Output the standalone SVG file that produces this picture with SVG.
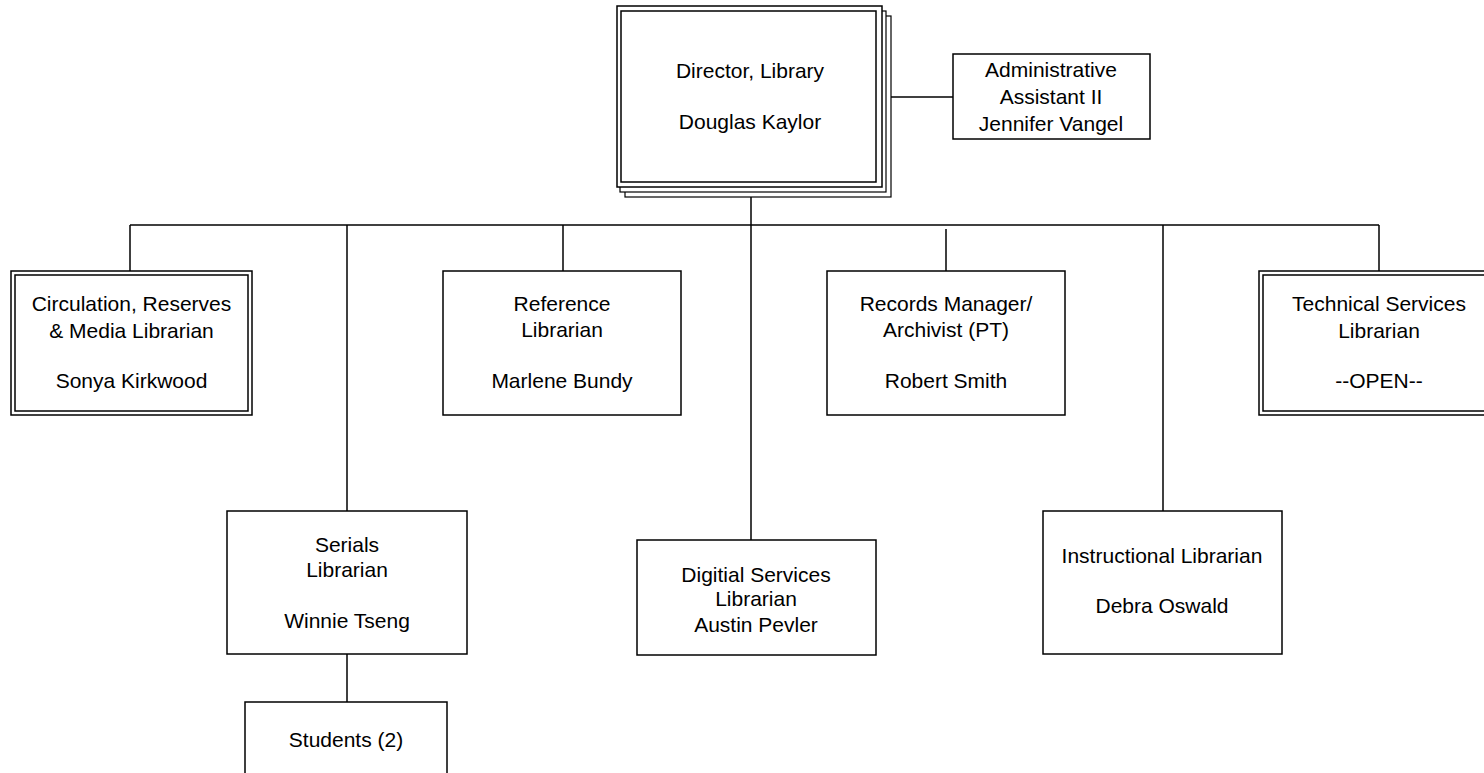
<svg xmlns="http://www.w3.org/2000/svg" width="1484" height="773" viewBox="0 0 1484 773">
<style>
.box{fill:#fff;stroke:#000;stroke-width:1.5}
.ln{fill:none;stroke:#000;stroke-width:1.5}
.sh{fill:#fff;stroke:#000;stroke-width:1.2}
text{font-family:"Liberation Sans",Arial,sans-serif;font-size:21px;fill:#000;text-anchor:middle}
</style>
<rect width="1484" height="773" fill="#fff"/>
<g id="connectors">
<line class="ln" x1="751" y1="190" x2="751" y2="540"/>
<line class="ln" x1="882" y1="97" x2="953" y2="97"/>
<line class="ln" x1="130" y1="225" x2="1379" y2="225"/>
<line class="ln" x1="130" y1="225" x2="130" y2="271"/>
<line class="ln" x1="347" y1="225" x2="347" y2="511"/>
<line class="ln" x1="563" y1="225" x2="563" y2="271"/>
<line class="ln" x1="946" y1="229" x2="946" y2="271"/>
<line class="ln" x1="1163" y1="225" x2="1163" y2="511"/>
<line class="ln" x1="1379" y1="225" x2="1379" y2="271"/>
<line class="ln" x1="347" y1="654" x2="347" y2="702"/>
</g>
<g id="director">
<rect class="sh" x="625" y="16" width="266" height="181"/>
<rect class="sh" x="620" y="11" width="266" height="181"/>
<rect class="box" x="617" y="6" width="265" height="181"/>
<rect class="box" x="621" y="11" width="255" height="171"/>
<text x="750" y="78">Director, Library</text>
<text x="750" y="129">Douglas Kaylor</text>
</g>
<g id="admin">
<rect class="box" x="953" y="54" width="197" height="85"/>
<text x="1051" y="77">Administrative</text>
<text x="1051" y="104">Assistant II</text>
<text x="1051" y="131">Jennifer Vangel</text>
</g>
<g id="circulation">
<rect class="box" x="11" y="271" width="241" height="144"/>
<rect class="box" x="15" y="275" width="233" height="136"/>
<text x="131.5" y="311">Circulation, Reserves</text>
<text x="131.5" y="338">&amp; Media Librarian</text>
<text x="131.5" y="388">Sonya Kirkwood</text>
</g>
<g id="reference">
<rect class="box" x="443" y="271" width="238" height="144"/>
<text x="562" y="311">Reference</text>
<text x="562" y="337">Librarian</text>
<text x="562" y="388">Marlene Bundy</text>
</g>
<g id="records">
<rect class="box" x="827" y="271" width="238" height="144"/>
<text x="946" y="311">Records Manager/</text>
<text x="946" y="337">Archivist (PT)</text>
<text x="946" y="388">Robert Smith</text>
</g>
<g id="technical">
<rect class="box" x="1259" y="271" width="241" height="144"/>
<rect class="box" x="1263" y="275" width="233" height="136"/>
<text x="1379" y="311">Technical Services</text>
<text x="1379" y="338">Librarian</text>
<text x="1379" y="388">--OPEN--</text>
</g>
<g id="serials">
<rect class="box" x="227" y="511" width="240" height="143"/>
<text x="347" y="552">Serials</text>
<text x="347" y="577">Librarian</text>
<text x="347" y="628">Winnie Tseng</text>
</g>
<g id="digital">
<rect class="box" x="637" y="540" width="239" height="115"/>
<text x="756" y="582">Digitial Services</text>
<text x="756" y="606">Librarian</text>
<text x="756" y="632">Austin Pevler</text>
</g>
<g id="instructional">
<rect class="box" x="1043" y="511" width="239" height="143"/>
<text x="1162" y="563">Instructional Librarian</text>
<text x="1162" y="613">Debra Oswald</text>
</g>
<g id="students">
<rect class="box" x="245" y="702" width="202" height="90"/>
<text x="346" y="747">Students (2)</text>
</g>
</svg>
